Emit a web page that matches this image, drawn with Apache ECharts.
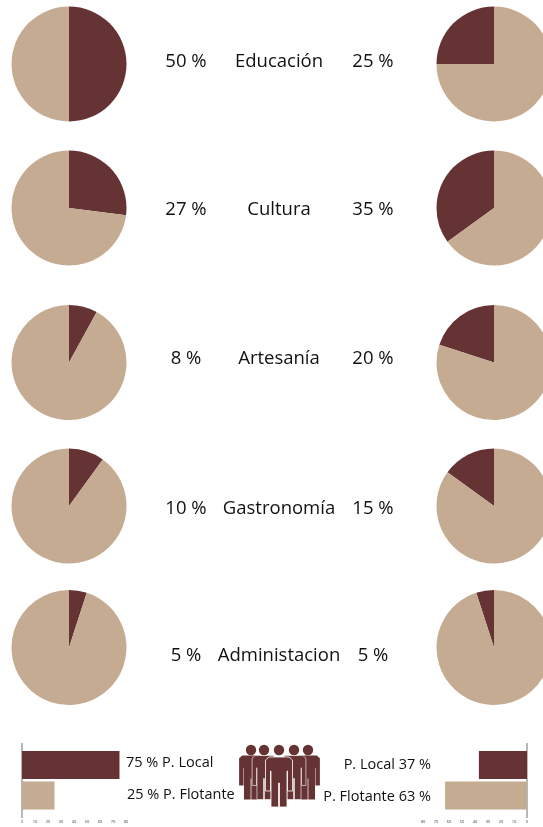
<!DOCTYPE html>
<html><head><meta charset="utf-8">
<style>html,body{margin:0;padding:0;background:#fff}#c{width:543px;height:827px}</style>
<script src="https://cdn.jsdelivr.net/npm/echarts@6/dist/echarts.min.js"></script>
</head><body><div id="c"></div>
<script>
const sectors = ['Educación','Cultura','Artesanía','Gastronomía','Administacion'];
const leftShare = [50,27,8,10,5];
const rightShare = [25,35,20,15,5];
const popCats = ['P. Local','P. Flotante'];
const popLeft = [75,25];
const popRight = [37,63];
const ticks = [0,10,20,30,40,50,60,70,80];

const DARK='#663334', LIGHT='#C4AB92', F='"Open Sans","Noto Sans",sans-serif';
const rowY=[64,208,362.5,506,647.5], textY=[62,209.5,359,508.5,656];
const R=57.5;
function pie(v,cx,cy,cw){return {type:'pie',center:[cx,cy],radius:[0,R],clockwise:cw,startAngle:90,silent:true,animation:false,
  label:{show:false},labelLine:{show:false},itemStyle:{borderWidth:0},
  data:[{value:v,itemStyle:{color:DARK}},{value:100-v,itemStyle:{color:LIGHT}}]};}
const series=[];
sectors.forEach((s,i)=>{series.push(pie(leftShare[i],69,rowY[i],true));series.push(pie(rightShare[i],494,rowY[i],false));});
function bar(vals,ax){return {type:'bar',xAxisIndex:ax,yAxisIndex:ax,barWidth:28,animation:false,silent:true,
  data:vals.map((v,i)=>({value:v,itemStyle:{color:i?LIGHT:DARK}}))};}
series.push(bar(popLeft,0),bar(popRight,1));
function txt(t,x,y,size,align){return {type:'text',silent:true,style:{text:t,x,y,fill:'#111',font:size+'px '+F,textAlign:align||'center',textVerticalAlign:'middle'}};}
const g=[];
sectors.forEach((s,i)=>{
  g.push(txt(leftShare[i]+' %',186,textY[i],18.5),txt(s,279,textY[i],18.5),txt(rightShare[i]+' %',373,textY[i],18.5));
});
g.push(txt(popLeft[0]+' % '+popCats[0],126,763,14.5,'left'),txt(popLeft[1]+' % '+popCats[1],127,795,14.5,'left'),
       txt(popCats[0]+' '+popRight[0]+' %',431,765,14.5,'right'),txt(popCats[1]+' '+popRight[1]+' %',431,797,14.5,'right'));
[22,527].forEach(x=>g.push({type:'line',silent:true,shape:{x1:x,y1:743,x2:x,y2:818},style:{stroke:'#888',lineWidth:1.2}}));
// people icon
function person(cx,top,k,z,sw){
  const pts=[[-10,12],[10,12],[13.5,15],[13.5,46],[8.5,46],[8.5,26],[8,26],[8,62],[0.4,62],[0.4,38],[-0.4,38],[-0.4,62],[-8,62],[-8,26],[-8.5,26],[-8.5,46],[-13.5,46],[-13.5,15]]
    .map(p=>[cx+p[0]*k,top+p[1]*k]);
  return [
   {type:'circle',z:z,silent:true,shape:{cx:cx,cy:top+5,r:5.2},style:{fill:DARK}},
   {type:'polygon',z:z,silent:true,shape:{points:pts},style:{fill:DARK,stroke:'#fff',lineWidth:sw}}
  ];
}
[[251,745,.88,1,0],[308,745,.88,1,0],[264,745,.88,2,0.6],[294,745,.88,2,0.6],[279,745,1,3,0.8]].forEach(p=>person(...p).forEach(e=>g.push(e)));
function xa(idx,inv){return {type:'value',gridIndex:idx,min:0,max:80,interval:10,inverse:inv,splitLine:{show:false},axisLine:{show:false},axisTick:{show:false},
  axisLabel:{fontSize:4,color:'#444',margin:9,fontFamily:F}};}
function ya(idx){return {type:'category',gridIndex:idx,inverse:true,data:popCats,axisLine:{show:false},axisTick:{show:false},axisLabel:{show:false}};}
const chart=echarts.init(document.getElementById('c'),null,{renderer:'canvas'});
chart.setOption({animation:false,
 grid:[{left:22,width:104,top:749.75,height:61},{left:423,width:104,top:749.75,height:61}],
 xAxis:[xa(0,false),xa(1,true)],yAxis:[ya(0),ya(1)],
 series,graphic:{elements:g}});
</script></body></html>
